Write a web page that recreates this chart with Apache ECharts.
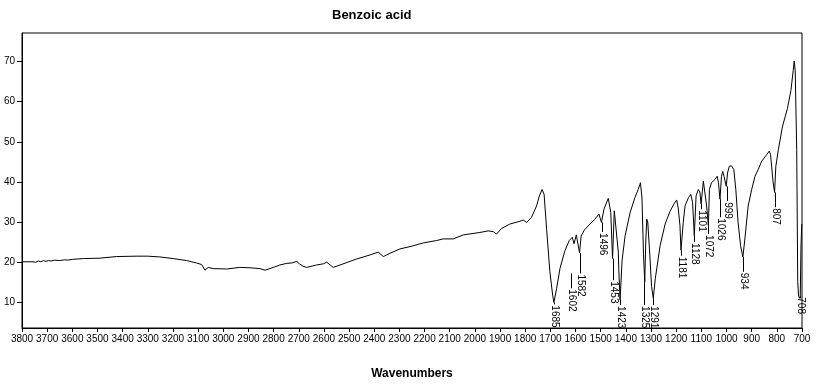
<!DOCTYPE html>
<html><head><meta charset="utf-8">
<script src="https://cdn.jsdelivr.net/npm/echarts@6/dist/echarts.min.js"></script>
<style>html,body{margin:0;padding:0;background:#fff}#c{width:825px;height:385px}</style>
</head><body><div id="c"></div>
<script>
var wavenumbers = [3800,3780,3760,3745,3735,3725,3715,3705,3695,3685,3670,3650,3630,3620,3600,3556,3490,3424,3344,3300,3252,3199,3146,3106,3086,3073,3060,3040,2987,2934,2894,2854,2834,2801,2775,2748,2728,2708,2698,2683,2669,2629,2602,2589,2563,2536,2470,2417,2384,2364,2338,2298,2250,2205,2152,2126,2086,2046,1980,1947,1927,1914,1894,1861,1821,1808,1801,1794,1775,1755,1744,1733,1725,1715,1702,1691,1686,1675,1662,1642,1625,1621,1613,1606,1597,1584,1578,1565,1543,1523,1507,1497,1487,1470,1464,1460,1453,1446,1439,1430,1428,1423,1415,1403,1383,1364,1351,1342,1336,1330,1325,1321,1317,1313,1305,1298,1291,1283,1264,1244,1225,1209,1198,1192,1185,1181,1172,1165,1151,1142,1135,1128,1121,1112,1106,1101,1092,1085,1079,1072,1068,1060,1046,1037,1032,1026,1020,1015,1010,1001,996,989,980,971,963,954,944,935,927,914,900,887,874,860,840,830,825,815,809,804,794,778,758,744,735,731,727,721,717,714,710,707,704,701];
var transmittance = [20.1,20.1,20.1,20.0,20.3,20.1,20.4,20.2,20.4,20.3,20.5,20.4,20.6,20.5,20.7,20.9,21.0,21.4,21.5,21.5,21.3,20.9,20.4,19.8,19.4,18.0,18.7,18.4,18.3,18.7,18.6,18.4,18.0,18.7,19.3,19.7,19.8,20.2,19.6,19.0,18.7,19.3,19.6,20.0,18.7,19.3,20.8,21.8,22.5,21.4,22.2,23.3,24.0,24.8,25.4,25.8,25.8,26.8,27.4,27.8,27.6,27.0,28.4,29.5,30.2,30.5,30.6,29.9,31.2,34.0,36.5,38.1,36.9,28.2,17.6,11.8,10.0,13.5,18.4,22.9,25.4,25.6,26.2,24.6,26.8,22.3,26.5,28.0,29.5,30.7,32.0,29.9,33.2,35.9,36.2,32.4,20.9,32.8,33.2,22.5,18.0,10.6,20.5,26.6,32.4,36.1,38.1,39.8,36.0,22.0,15.0,25.0,30.7,30.0,22.0,14.0,11.0,15.9,24.1,29.5,32.6,34.5,35.5,33.5,29.1,23.0,29.9,34.0,36.1,36.9,34.9,26.6,36.5,38.1,37.5,34.5,40.2,40.6,34.0,29.1,38.1,39.8,40.6,41.4,39.8,35.7,41.4,42.6,41.4,38.9,42.2,43.9,44.0,43.1,38.1,29.9,24.1,21.3,25.8,34.0,38.1,41.4,43.1,45.2,46.8,47.7,46.8,40.0,37.4,43.9,48.0,53.7,58.3,62.8,67.7,70.1,67.7,48.0,15.2,11.8,11.0,11.5,24.0,29.5];
var peakLabels = ['1685','1602','1582','1496','1453','1423','1325','1291','1181','1128','1101','1072','1026','999','934','807','708'];
var peakWn = [1686,1620,1582,1496,1453,1423,1327,1291,1181,1128,1101,1072,1026,999,934,807,708];
var peakTop = [10.0,17.2,22.3,29.9,20.9,10.6,15.0,11.0,23.0,26.6,34.5,29.1,35.7,38.9,21.3,37.4,11.0];
var peakLabelTop = [9.5,13.5,17.2,27.5,15.5,9.3,9.3,9.3,21.6,25.0,33.2,27.0,31.2,35.2,17.6,33.7,11.5];
var xTicks = [3800,3700,3600,3500,3400,3300,3200,3100,3000,2900,2800,2700,2600,2500,2400,2300,2200,2100,2000,1900,1800,1700,1600,1500,1400,1300,1200,1100,1000,900,800,700];
var yTicks = [10,20,30,40,50,60,70];

var FONT = 'Liberation Sans';
var spectrum = wavenumbers.map(function(w,i){return [w, transmittance[i]];});
var peaks = peakWn.map(function(w,i){return [w, peakTop[i], peakLabelTop[i]];});

var chart = echarts.init(document.getElementById('c'), null, {renderer:'canvas'});
chart.setOption({
  animation:false,
  backgroundColor:'#fff',
  title:{text:'Benzoic acid', left:327, top:4, textStyle:{fontFamily:FONT, fontSize:13, fontWeight:'bold', color:'#000'}},
  grid:{left:22, right:23, top:33, bottom:54, show:true, borderColor:'#000', borderWidth:1},
  xAxis:{type:'value', inverse:true, min:700, max:3800, interval:100,
    name:'Wavenumbers', nameLocation:'middle', nameGap:40,
    nameTextStyle:{fontFamily:FONT, fontSize:12, fontWeight:'bold', color:'#000'},
    axisLine:{lineStyle:{color:'#000', width:1}},
    axisTick:{length:4, lineStyle:{color:'#000'}, customValues:xTicks},
    axisLabel:{fontFamily:FONT, fontSize:10, color:'#000', margin:6, interval:0, customValues:xTicks,
      formatter:function(v){return String(v);}},
    splitLine:{show:false}},
  yAxis:{type:'value', min:3.6, max:77.1,
    axisLine:{show:true, lineStyle:{color:'#000', width:1}},
    axisTick:{show:true, length:5, lineStyle:{color:'#000'}, customValues:yTicks},
    axisLabel:{fontFamily:FONT, fontSize:10, color:'#000', margin:7, customValues:yTicks,
      formatter:function(v){return String(v);}},
    splitLine:{show:false}},
  series:[
    {type:'line', data:spectrum, showSymbol:false, symbol:'none', lineStyle:{color:'#000', width:1}, silent:true},
    {type:'custom', data:peaks, encode:{x:0, y:1}, silent:true,
     renderItem:function(params, api){
       var w = api.value(0);
       var p1 = api.coord([w, api.value(1)]);
       var p2 = api.coord([w, api.value(2)]);
       var x = Math.round(p1[0]) + 0.5;
       return {type:'group', children:[
         {type:'line', shape:{x1:x, y1:p1[1], x2:x, y2:p2[1]}, style:{stroke:'#000', lineWidth:1}},
         {type:'text', x:x, y:p2[1]+1, rotation:-Math.PI/2,
          style:{text:peakLabels[params.dataIndex], textAlign:'left', textVerticalAlign:'middle', font:'10px '+FONT, fill:'#000'}}
       ]};
     }}
  ]
});
</script></body></html>
